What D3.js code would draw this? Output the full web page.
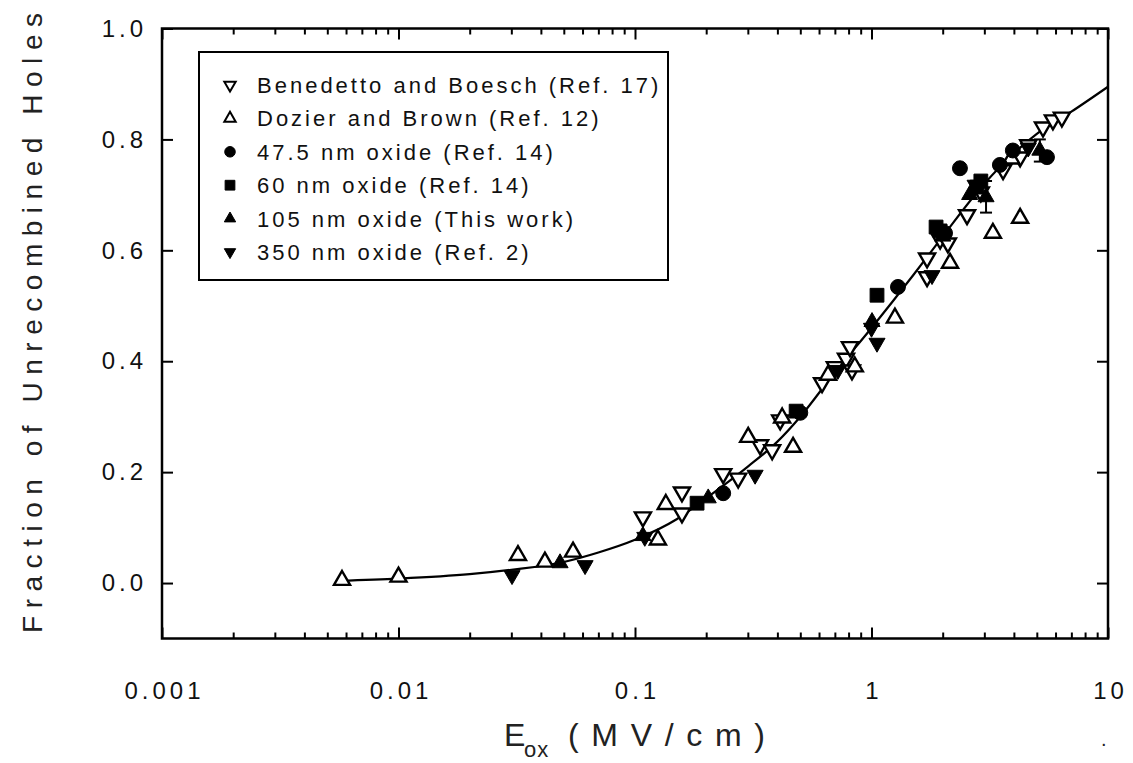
<!DOCTYPE html>
<html>
<head>
<meta charset="utf-8">
<script src="https://cdn.jsdelivr.net/npm/d3@7"></script>
<style>
  body { margin: 0; background: #fff; }
  svg { display: block; font-family: "Liberation Sans", Arial, sans-serif; }
</style>
</head>
<body>
<svg id="chart" width="1133" height="763"></svg>
<script>
// fitted curve
const fitE = [0.0056, 0.01, 0.02, 0.03, 0.05, 0.07, 0.1, 0.15, 0.2, 0.3, 0.4, 0.5, 0.7, 1.0, 1.5, 2.0, 3.0, 4.0, 5.0, 7.0, 10.0];
const fitF = [0.004, 0.008, 0.016, 0.024, 0.038, 0.055, 0.078, 0.115, 0.153, 0.21, 0.255, 0.30, 0.38, 0.46, 0.555, 0.625, 0.72, 0.775, 0.81, 0.85, 0.895];

// [E (MV/cm), fraction]
const benedetto = [[0.108, 0.119], [0.158, 0.164], [0.158, 0.126], [0.236, 0.197], [0.273, 0.189], [0.338, 0.249],
  [0.38, 0.24], [0.411, 0.294], [0.618, 0.361], [0.70, 0.39], [0.78, 0.405], [0.811, 0.426], [0.827, 0.384],
  [1.718, 0.552], [1.718, 0.586], [1.95, 0.62], [2.104, 0.613], [2.535, 0.664], [2.9, 0.705], [3.6, 0.745],
  [4.25, 0.768], [4.6, 0.79], [5.31, 0.822], [5.85, 0.835], [6.38, 0.840]];
const dozier = [[0.00577, 0.005], [0.01, 0.011], [0.032, 0.050], [0.0416, 0.038], [0.0547, 0.056], [0.125, 0.078],
  [0.135, 0.142], [0.301, 0.263], [0.419, 0.298], [0.466, 0.245], [0.655, 0.375], [0.85, 0.39], [1.256, 0.478],
  [2.148, 0.577], [3.26, 0.631], [3.9, 0.765], [4.25, 0.658]];
const oxide47 = [[0.236, 0.162], [0.50, 0.307], [1.294, 0.534], [2.046, 0.631], [2.366, 0.748], [3.49, 0.754],
  [3.96, 0.78], [5.52, 0.768]];
const oxide60 = [[0.183, 0.144], [0.48, 0.31], [1.055, 0.519], [1.875, 0.642], [1.95, 0.635], [2.794, 0.714], [2.9, 0.725]];
const oxide105 = [[0.0482, 0.036], [0.108, 0.085], [0.204, 0.153], [1.005, 0.471], [2.0, 0.625], [2.6, 0.70],
  [3.05, 0.696], [5.15, 0.78]];
// [E, low, high]
const oxide105Err = [[3.05, 0.668, 0.725], [5.15, 0.76, 0.80]];
const oxide350 = [[0.0302, 0.014], [0.0615, 0.032], [0.110, 0.083], [0.322, 0.195], [0.721, 0.384], [1.0, 0.46],
  [1.055, 0.433], [1.803, 0.555], [2.742, 0.718], [4.6, 0.785]];

const xTicks = [0.001, 0.01, 0.1, 1, 10];
const xTickLabels = ["0.001", "0.01", "0.1", "1", "10"];
const yTicks = [0.0, 0.2, 0.4, 0.6, 0.8, 1.0];

const series = [
  { name: "Benedetto and Boesch (Ref. 17)", data: benedetto, shape: "tri", down: true, filled: false },
  { name: "Dozier and Brown (Ref. 12)", data: dozier, shape: "tri", down: false, filled: false },
  { name: "47.5 nm oxide (Ref. 14)", data: oxide47, shape: "circle", filled: true },
  { name: "60 nm oxide (Ref. 14)", data: oxide60, shape: "square", filled: true },
  { name: "105 nm oxide (This work)", data: oxide105, shape: "tri", down: false, filled: true },
  { name: "350 nm oxide (Ref. 2)", data: oxide350, shape: "tri", down: true, filled: true }
];

const plotLeft = 162, plotRight = 1108, plotTop = 28.5, plotBottom = 638.5;
const svg = d3.select("#chart");

const x = d3.scaleLog().domain([0.001, 10]).range([plotLeft, plotRight]);
const y = d3.scaleLinear().domain([-0.1, 1.0]).range([plotBottom, plotTop]);

const minorTicks = [];
[0.001, 0.01, 0.1, 1].forEach(d => { for (let k = 2; k <= 9; k++) minorTicks.push(d * k); });

// bottom axis
svg.append("g").attr("transform", `translate(2,${plotBottom})`)
  .call(d3.axisBottom(x).tickValues(xTicks).tickSize(-11).tickPadding(43)
    .tickFormat((d, i) => xTickLabels[i]))
  .selectAll(".tick line").attr("transform", "translate(-2,0)");
svg.append("g").attr("transform", `translate(0,${plotBottom})`)
  .call(d3.axisBottom(x).tickValues(minorTicks).tickSize(-6).tickFormat(""));
// top axis
svg.append("g").attr("transform", `translate(0,${plotTop})`)
  .call(d3.axisTop(x).tickValues(xTicks).tickSize(-11).tickFormat(""));
svg.append("g").attr("transform", `translate(0,${plotTop})`)
  .call(d3.axisTop(x).tickValues(minorTicks).tickSize(-6).tickFormat(""));
// left / right
svg.append("g").attr("transform", `translate(${plotLeft},0)`)
  .call(d3.axisLeft(y).tickValues(yTicks).tickSize(-11).tickPadding(15).tickFormat(d3.format(".1f")));
svg.append("g").attr("transform", `translate(${plotRight},0)`)
  .call(d3.axisRight(y).tickValues(yTicks).tickSize(-11).tickFormat(""));

svg.selectAll(".domain").remove();
svg.selectAll(".tick line").attr("stroke", "#000").attr("stroke-width", 2);
svg.selectAll(".tick text")
  .attr("fill", "#111")
  .style("font-size", "24px")
  .style("letter-spacing", "4px");

// frame
svg.append("rect")
  .attr("x", plotLeft).attr("y", plotTop)
  .attr("width", plotRight - plotLeft).attr("height", plotBottom - plotTop)
  .attr("fill", "none").attr("stroke", "#000").attr("stroke-width", 2.5);

// fitted line
const fit = fitE.map((e, i) => [e, fitF[i]]);
svg.append("path")
  .datum(fit)
  .attr("fill", "none")
  .attr("stroke", "#000")
  .attr("stroke-width", 2.2)
  .attr("d", d3.line().x(d => x(d[0])).y(d => y(d[1])).curve(d3.curveMonotoneX));

function symbolFor(s, scale) {
  if (s.shape === "circle") return d3.symbol(d3.symbolCircle, 175 * scale)();
  if (s.shape === "square") return d3.symbol(d3.symbolSquare, 190 * scale)();
  return d3.symbol(d3.symbolTriangle, 112 * scale)();
}

// error bars
const eb = svg.append("g").attr("stroke", "#000").attr("stroke-width", 2);
oxide105Err.forEach(d => {
  const cx = x(d[0]);
  eb.append("line").attr("x1", cx).attr("x2", cx).attr("y1", y(d[1])).attr("y2", y(d[2]));
  eb.append("line").attr("x1", cx - 6).attr("x2", cx + 6).attr("y1", y(d[1])).attr("y2", y(d[1]));
  eb.append("line").attr("x1", cx - 6).attr("x2", cx + 6).attr("y1", y(d[2])).attr("y2", y(d[2]));
});

// markers
series.forEach(s => {
  svg.append("g")
    .selectAll("path")
    .data(s.data)
    .enter().append("path")
    .attr("d", symbolFor(s, 1))
    .attr("transform", d => `translate(${x(d[0])},${y(d[1])})${s.down ? " rotate(180)" : ""}`)
    .attr("fill", s.filled ? "#000" : "#fff")
    .attr("stroke", "#000")
    .attr("stroke-width", s.filled ? 1 : 2.4);
});

// legend
const legend = svg.append("g");
legend.append("rect")
  .attr("x", 199).attr("y", 52).attr("width", 469).attr("height", 228)
  .attr("fill", "#fff").attr("stroke", "#000").attr("stroke-width", 2);
series.forEach((s, i) => {
  const cy = 85 + i * 33.4;
  legend.append("path")
    .attr("d", symbolFor(s, 0.5))
    .attr("transform", `translate(230,${cy})${s.down ? " rotate(180)" : ""}`)
    .attr("fill", s.filled ? "#000" : "#fff")
    .attr("stroke", "#000")
    .attr("stroke-width", s.filled ? 1 : 2);
  legend.append("text")
    .attr("x", 257).attr("y", cy + 8)
    .style("font-size", "22px")
    .style("letter-spacing", "3px")
    .attr("fill", "#111")
    .text(s.name);
});

// axis titles
svg.append("text")
  .attr("transform", "translate(42,323) rotate(-90)")
  .attr("text-anchor", "middle")
  .attr("textLength", 620)
  .attr("lengthAdjust", "spacing")
  .style("font-size", "28px")
  .attr("fill", "#222")
  .text("Fraction of Unrecombined Holes");

const xt = svg.append("g").attr("fill", "#222");
xt.append("text").attr("x", 504).attr("y", 746).style("font-size", "32px").text("E");
xt.append("text").attr("x", 524).attr("y", 757).style("font-size", "22px").style("letter-spacing", "1px").text("ox");
xt.append("text").attr("x", 568).attr("y", 746).style("font-size", "32px")
  .attr("textLength", 197).attr("lengthAdjust", "spacing").text("(MV/cm)");
xt.append("text").attr("x", 1101).attr("y", 746).style("font-size", "20px").text(".");
</script>
</body>
</html>
